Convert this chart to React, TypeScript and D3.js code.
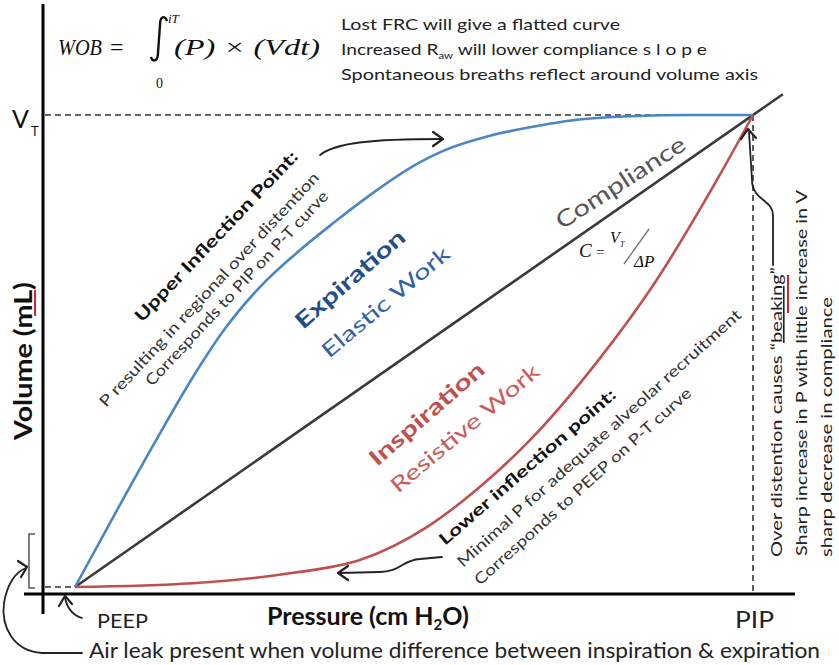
import React from 'react';
import * as d3 from 'd3';

const W = 839;
const H = 665;

// Expiration (blue) curve: pressure (% of PIP above PEEP) vs volume (% of VT)
const bluePressure = [0, 6.2, 11.8, 17.4, 22.1, 27.3, 33.2, 38.1, 43.1, 50.9, 54.3, 61.2, 67.5, 75.5, 90.3, 100];
const blueVolume = [0, 16.3, 30.7, 44.5, 54.7, 63.6, 71.4, 77.1, 82.6, 90.0, 92.4, 95.6, 97.5, 99.2, 100, 100];
// Inspiration (red) curve
const redPressure = [0, 17.4, 32.2, 42.0, 51.9, 59.7, 67.1, 77.0, 85.3, 95.1, 100];
const redVolume = [0, 0.8, 3.0, 5.7, 12.7, 21.2, 31.1, 47.7, 64.0, 87.3, 100];
// Compliance line
const compliancePressure = [0, 104.4];
const complianceVolume = [0, 104.4];

const notes = [
  'Lost FRC will give a flatted curve',
  'Spontaneous breaths reflect around volume axis',
];
const upperNotes = ['Upper Inflection Point:', 'P resulting in regional over distention', 'Corresponds to PIP on P-T curve'];
const lowerNotes = ['Lower inflection point:', 'Minimal P for adequate alveolar recruitment', 'Corresponds to PEEP on P-T curve'];
const rightNotes = ['Sharp increase in P with little increase in V', 'sharp decrease in compliance'];

const FONT = "Lato, 'Open Sans', sans-serif";

const RT = ({ x, y, a, len, size, weight = 400, fill = '#222', children }: any) => (
  <text
    transform={`translate(${x},${y}) rotate(${-a})`}
    fontSize={size}
    fontWeight={weight}
    fill={fill}
    fontFamily={FONT}
    textLength={len}
    lengthAdjust="spacingAndGlyphs"
  >
    {children}
  </text>
);

export default function App() {
  const x = d3.scaleLinear().domain([0, 100]).range([75, 753]);
  const y = d3.scaleLinear().domain([0, 100]).range([587, 115]);
  const AX = 43;
  const AY = 594;

  const line = d3
    .line<[number, number]>()
    .x((d) => x(d[0]))
    .y((d) => y(d[1]))
    .curve(d3.curveMonotoneX);

  const blue = line(bluePressure.map((p, i) => [p, blueVolume[i]]) as [number, number][]);
  const red = line(redPressure.map((p, i) => [p, redVolume[i]]) as [number, number][]);
  const comp = d3
    .line<[number, number]>()
    .x((d) => x(d[0]))
    .y((d) => y(d[1]))(compliancePressure.map((p, i) => [p, complianceVolume[i]]) as [number, number][]);

  const arrowStroke = '#222';

  return (
    <svg width={W} height={H} style={{ position: 'absolute', left: 0, top: 0, background: '#fff' }}>
      <rect width={W} height={H} fill="#fff" />
      {/* dashed reference lines */}
      <g stroke="#333" strokeWidth={1.6} strokeDasharray="6,4" fill="none">
        <line x1={AX + 2} x2={x(100)} y1={y(100)} y2={y(100)} />
        <line x1={x(100)} x2={x(100)} y1={y(100)} y2={AY} />
        <line x1={AX + 2} x2={x(0)} y1={y(0)} y2={y(0)} />
      </g>

      {/* curves */}
      <path d={comp || ''} fill="none" stroke="#3a3a3a" strokeWidth={2.6} />
      <path d={blue || ''} fill="none" stroke="#4a86c5" strokeWidth={2.6} />
      <path d={red || ''} fill="none" stroke="#c0504d" strokeWidth={2.6} />

      {/* axes */}
      <line x1={AX} x2={AX} y1={4} y2={614} stroke="#000" strokeWidth={3} />
      <line x1={24} x2={795} y1={AY} y2={AY} stroke="#000" strokeWidth={3} />

      {/* V_T label */}
      <text x={12} y={128} fontFamily={FONT} fontSize={25} fill="#111">V</text>
      <text x={31} y={136} fontFamily={FONT} fontSize={13} fill="#111">T</text>

      {/* formula */}
      <g fontFamily="'Liberation Serif', 'DejaVu Serif', serif" fontStyle="italic" fill="#111">
        <text x={58} y={55} fontSize={24} textLength={44} lengthAdjust="spacingAndGlyphs">WOB</text>
        <text x={110} y={55} fontSize={24} fontStyle="normal">=</text>
        <text x={168} y={23} fontSize={13}>iT</text>
        <text x={156} y={88} fontSize={14} fontStyle="normal">0</text>
        <text x={174} y={55} fontSize={24} textLength={146} lengthAdjust="spacingAndGlyphs">(P) × (Vdt)</text>
      </g>
      <path d="M167,21 C165,15 160,16 160,25 L158,53 C158,62 152,62 151,57" fill="none" stroke="#111" strokeWidth={2.4} />

      {/* notes top right */}
      <g fontFamily={FONT} fontSize={15} fill="#222">
        <text x={341} y={30} textLength={279} lengthAdjust="spacingAndGlyphs">{notes[0]}</text>
        <text x={341} y={55} textLength={366} lengthAdjust="spacingAndGlyphs">
          Increased R<tspan fontSize={9} dy={4}>aw</tspan>
          <tspan dy={-4}> will lower compliance s l o p e</tspan>
        </text>
        <text x={341} y={80} textLength={417} lengthAdjust="spacingAndGlyphs">{notes[1]}</text>
      </g>

      {/* upper inflection notes */}
      <RT x={142} y={323} a={46.5} len={228} size={17} weight={700} fill="#111">{upperNotes[0]}</RT>
      <RT x={106} y={408} a={47} len={314} size={15.5} fill="#333">{upperNotes[1]}</RT>
      <RT x={152} y={387} a={47} len={260} size={15.5} fill="#333">{upperNotes[2]}</RT>

      {/* expiration */}
      <RT x={303} y={330} a={41} len={138} size={22} weight={700} fill="#1f4e8c">Expiration</RT>
      <RT x={329} y={359} a={40} len={160} size={21} fill="#2f62a6">Elastic Work</RT>

      {/* compliance */}
      <RT x={562} y={230} a={33} len={150} size={23} fill="#555">Compliance</RT>
      <g fontFamily="'Liberation Serif', serif" fontStyle="italic" fill="#111">
        <text x={579} y={257} fontSize={19}>C</text>
        <text x={596} y={257} fontSize={15} fontStyle="normal">=</text>
        <text x={610} y={243} fontSize={16}>V</text>
        <text x={620} y={247} fontSize={8}>T</text>
        <text x={634} y={267} fontSize={17}>ΔP</text>
      </g>
      <line x1={649} y1={229} x2={624} y2={264} stroke="#777" strokeWidth={1.4} />

      {/* inspiration */}
      <RT x={377} y={467} a={41} len={145} size={22} weight={700} fill="#c0504d">Inspiration</RT>
      <RT x={398} y={494} a={40} len={187} size={21} fill="#cc5b58">Resistive Work</RT>

      {/* lower inflection notes */}
      <RT x={445} y={546} a={41} len={228} size={16.5} weight={700} fill="#111">{lowerNotes[0]}</RT>
      <RT x={463} y={568} a={42} len={376} size={15.5} fill="#333">{lowerNotes[1]}</RT>
      <RT x={480} y={586} a={42} len={286} size={15.5} fill="#333">{lowerNotes[2]}</RT>

      {/* right vertical notes */}
      <g fontFamily={FONT} fontSize={16} fill="#222">
        <text transform="translate(782,557) rotate(-90)" textLength={290} lengthAdjust="spacingAndGlyphs">
          Over distention causes “<tspan textDecoration="underline">beaking</tspan>”
        </text>
        <text transform="translate(807,556) rotate(-90)" textLength={366} lengthAdjust="spacingAndGlyphs">{rightNotes[0]}</text>
        <text transform="translate(832,557) rotate(-90)" textLength={260} lengthAdjust="spacingAndGlyphs">{rightNotes[1]}</text>
      </g>
      <line x1={788} x2={788} y1={275} y2={313} stroke="#e02020" strokeWidth={2} />

      {/* axis titles */}
      <text x={267} y={625} fontFamily={FONT} fontWeight={700} fontSize={25} fill="#111">
        Pressure (cm H<tspan fontSize={15} dy={5}>2</tspan><tspan dy={-5}>O)</tspan>
      </text>
      <text transform="translate(32,440) rotate(-90)" fontFamily={FONT} fontWeight={700} fontSize={25} fill="#111" textLength={158} lengthAdjust="spacingAndGlyphs">
        Volume (mL)
      </text>
      <line x1={35} x2={35} y1={290} y2={316} stroke="#e02020" strokeWidth={2} />
      <text x={97} y={628} fontFamily={FONT} fontSize={20} fill="#222" textLength={51} lengthAdjust="spacingAndGlyphs">PEEP</text>
      <text x={735} y={628} fontFamily={FONT} fontSize={24} fill="#222" textLength={39} lengthAdjust="spacingAndGlyphs">PIP</text>
      <text x={89} y={658} fontFamily={FONT} fontSize={21} fill="#222" textLength={731} lengthAdjust="spacingAndGlyphs">
        Air leak present when volume difference between inspiration &amp; expiration
      </text>

      {/* bracket */}
      <path d="M35,534 L29,534 L29,588 L35,588" fill="none" stroke="#555" strokeWidth={1.5} />

      {/* arrows */}
      <g fill="none" stroke={arrowStroke} strokeWidth={1.8} strokeLinecap="round" strokeLinejoin="round">
        {/* upper inflection */}
        <path d="M320,155 C335,143 370,139 442,139" />
        <path d="M433,132 L443,139 L433,146" strokeWidth={2.2} />
        {/* beaking */}
        <path d="M773,265 L773,215 C773,200 752,200 752,180 L749,132" />
        <path d="M741,139 L748,129 L756,138" strokeWidth={2.2} />
        {/* lower inflection */}
        <path d="M442,557 L420,559 C402,560 400,572 380,572 L339,573" />
        <path d="M348,566 L338,573 L348,580" strokeWidth={2.2} />
        {/* PEEP */}
        <path d="M82,618 C72,615 67,607 65,598" />
        <path d="M59,606 L65,596 L72,604" strokeWidth={2.2} />
        {/* air leak */}
        <path d="M82,653 L42,653 C12,651 1,625 4,603 C7,585 15,572 26,568" />
        <path d="M18,561 L27,567 L21,577" strokeWidth={2.2} />
      </g>
    </svg>
  );
}
